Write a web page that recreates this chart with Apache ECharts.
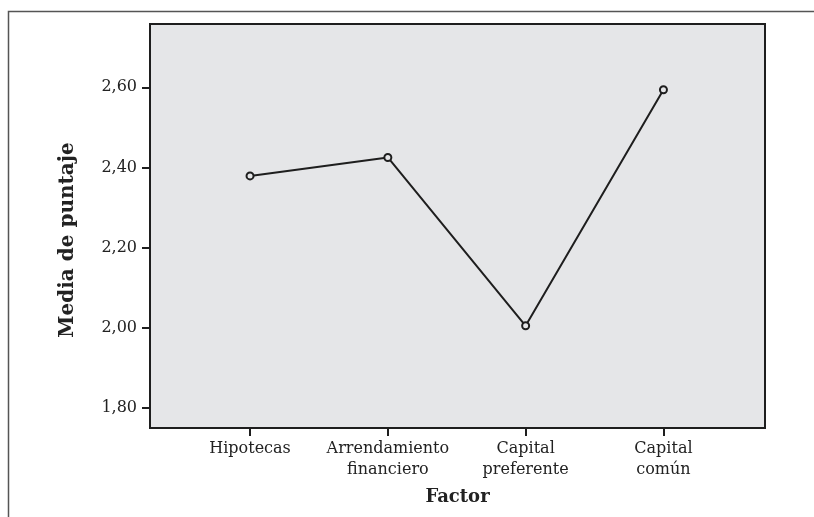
<!DOCTYPE html>
<html>
<head>
<meta charset="utf-8">
<script src="https://cdn.jsdelivr.net/npm/echarts@6/dist/echarts.min.js"></script>
<style>
  html, body { margin: 0; padding: 0; background: #fff; }
  #chart { width: 814px; height: 517px; }
</style>
</head>
<body>
<div id="chart"></div>
<script>
// categories along the x axis (placed at 1..4 on a value axis)
const factors = ['Hipotecas', 'Arrendamiento\nfinanciero', 'Capital\npreferente', 'Capital\ncomún'];
const positions = [1, 2, 3, 4];
// mean score per factor
const means = [2.379, 2.425, 2.005, 2.594];
// y tick values
const yTicks = [1.8, 2.0, 2.2, 2.4, 2.6];

const serif = '"DejaVu Serif", serif';

let myChart = echarts.init(document.getElementById('chart'));

let option = {
    animation: false,
    grid: {
        left: 150,
        top: 24,
        right: 49,
        bottom: 89,
        show: true,
        backgroundColor: '#e5e6e8',
        borderColor: '#1e1e1e',
        borderWidth: 2
    },
    xAxis: {
        type: 'value',
        min: 0.274,
        max: 4.737,
        name: 'Factor',
        nameLocation: 'middle',
        nameGap: 60,
        nameTextStyle: { fontFamily: serif, fontWeight: 'bold', fontSize: 18, color: '#222' },
        axisLine: { show: true, lineStyle: { color: '#1e1e1e', width: 2 } },
        axisTick: { show: true, length: 8, customValues: positions, lineStyle: { color: '#1e1e1e', width: 2 } },
        axisLabel: {
            customValues: positions,
            margin: 10,
            fontFamily: serif,
            fontSize: 16,
            lineHeight: 21,
            color: '#222',
            formatter: function (value) {
                const i = positions.indexOf(Math.round(value));
                return i >= 0 ? factors[i] : '';
            }
        },
        splitLine: { show: false }
    },
    yAxis: {
        type: 'value',
        min: 1.75,
        max: 2.758,
        name: 'Media de puntaje',
        nameLocation: 'middle',
        nameGap: 72,
        nameTextStyle: { fontFamily: serif, fontWeight: 'bold', fontSize: 20, color: '#222', padding: [0, 28, 0, 0] },
        axisLine: { show: true, lineStyle: { color: '#1e1e1e', width: 2 } },
        axisTick: { show: true, length: 8, customValues: yTicks, lineStyle: { color: '#1e1e1e', width: 2 } },
        axisLabel: {
            customValues: yTicks,
            margin: 13,
            fontFamily: serif,
            fontSize: 16,
            color: '#222',
            formatter: function (value) {
                return value.toFixed(2).replace('.', ',');
            }
        },
        splitLine: { show: false }
    },
    series: [
        {
            type: 'line',
            data: positions.map((p, i) => [p, means[i]]),
            symbol: 'circle',
            symbolSize: 7,
            lineStyle: { color: '#1e1e1e', width: 2 },
            itemStyle: { color: '#e5e6e8', borderColor: '#1e1e1e', borderWidth: 2 }
        }
    ],
    graphic: [
        // outer frame, left and top edges only
        {
            type: 'polyline',
            shape: { points: [[8.5, 517], [8.5, 11.5], [814, 11.5]] },
            style: { stroke: '#555', lineWidth: 1.5, fill: null }
        }
    ]
};
myChart.setOption(option);
</script>
</body>
</html>
